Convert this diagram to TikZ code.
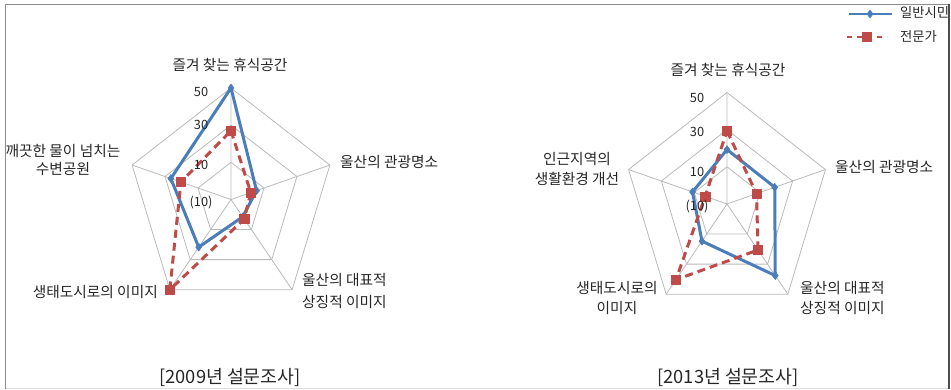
\documentclass[tikz,border=0pt]{standalone}
\usepackage{fontspec}
\setmainfont{Noto Sans CJK KR}
\usetikzlibrary{calc,plotmarks}
\definecolor{citizenblue}{HTML}{4A7EBB}
\definecolor{expertred}{HTML}{BE4B48}
\def\pentagon[#1](#2){\draw[#1] (90:#2) -- (162:#2) -- (234:#2) -- (306:#2) -- (18:#2) -- cycle;}
\tikzset{
	radargrid/.style={line width=0.8pt, color=black!27},
	citizen/.style={line width=3pt, color=citizenblue, line join=round},
	expert/.style={line width=3pt, color=expertred, dash pattern=on 8pt off 5pt, line join=round},
	citizenmarks/.style={mark=diamond*, mark size=4pt, mark options={solid, line width=0.5pt, fill=citizenblue, draw=citizenblue}},
	expertmarks/.style={mark=square*, mark size=4.6pt, mark options={solid, line width=0.5pt, fill=expertred, draw=expertred}},
	axislabel/.style={text=black!85, font=\fontsize{14.7}{20}\selectfont, inner sep=0pt},
	ringlabel/.style={text=black!85, font=\fontsize{12.8}{14}\selectfont, inner sep=0pt},
	charttitle/.style={text=black!85, font=\fontsize{18.3}{20}\selectfont, inner sep=0pt},
	legendtext/.style={text=black!85, font=\fontsize{13.3}{14}\selectfont, inner sep=0pt, anchor=west}
}

\begin{document}
\begin{tikzpicture}[x=1pt, y=-1pt, declare function={rv(\v)=(\v+10)/60;}]
			%%%%% START %%%%%
			\useasboundingbox (0, 0) rectangle (951, 390);
			
			%%%%% 2009 %%%%%
			\begin{scope}[shift={(231, 199.5)}, x=104pt, y=111.5pt]
				\pentagon[radargrid](0.3333)
				\pentagon[radargrid](0.6667)
				\pentagon[radargrid](1)
				\draw[radargrid] (0, 0) -- (90:1) (0, 0) -- (18:1) (0, 0) -- (306:1) (0, 0) -- (234:1) (0, 0) -- (162:1);
				
				\draw[citizen] plot[citizenmarks] coordinates {(90:{rv(50)}) (18:{rv(5.5)}) (306:{rv(1.5)}) (234:{rv(21.7)}) (162:{rv(26.5)})} -- cycle;
				\draw[expert] plot[expertmarks] coordinates {(90:{rv(27)}) (18:{rv(2)}) (306:{rv(3)}) (234:{rv(50)}) (162:{rv(20.4)})} -- cycle;
			\end{scope}
			
			\node[ringlabel] (ringA50) at (201, 92) {50};
			\node[ringlabel] (ringA30) at (201, 125) {30};
			\node[ringlabel] (ringA10) at (201, 165) {10};
			\node[ringlabel] (ringAm10) at (201, 203) {(10)};
			
			\node[axislabel] (restA) at (230, 65) {즐겨 찾는 휴식공간};
			\node[axislabel, anchor=west] (sightA) at (340, 162) {울산의 관광명소};
			\node[axislabel, anchor=west, align=left, font=\fontsize{14.7}{21.7}\selectfont] (symbolA) at (302, 291) {울산의 대표적\\상징적 이미지};
			\node[axislabel, anchor=east] (ecoA) at (158, 292) {생태도시로의 이미지};
			\node[axislabel, align=center, font=\fontsize{14.7}{18.6}\selectfont] (waterA) at (63, 160) {깨끗한 물이 넘치는\\수변공원};
			\node[charttitle] (titleA) at (230, 377) {[2009년 설문조사]};
			
			%%%%% 2013 %%%%%
			\begin{scope}[shift={(727, 204)}, x=103.5pt, y=111.5pt]
				\pentagon[radargrid](0.3333)
				\pentagon[radargrid](0.6667)
				\pentagon[radargrid](1)
				\draw[radargrid] (0, 0) -- (90:1) (0, 0) -- (18:1) (0, 0) -- (306:1) (0, 0) -- (234:1) (0, 0) -- (162:1);
				
				\draw[citizen] plot[citizenmarks] coordinates {(90:{rv(19.3)}) (18:{rv(19.1)}) (306:{rv(37.6)}) (234:{rv(14.7)}) (162:{rv(11)})} -- cycle;
				\draw[expert] plot[expertmarks] coordinates {(90:{rv(29.3)}) (18:{rv(8)}) (306:{rv(20.6)}) (234:{rv(40.3)}) (162:{rv(3.3)})} -- cycle;
			\end{scope}
			
			\node[ringlabel] (ringB50) at (697, 98) {50};
			\node[ringlabel] (ringB30) at (697, 132) {30};
			\node[ringlabel] (ringB10) at (697, 172) {10};
			\node[ringlabel] (ringBm10) at (697, 207) {(10)};
			
			\node[axislabel] (restB) at (728, 70) {즐겨 찾는 휴식공간};
			\node[axislabel, anchor=west] (sightB) at (835, 167) {울산의 관광명소};
			\node[axislabel, anchor=west, align=left] (symbolB) at (800, 298) {울산의 대표적\\상징적 이미지};
			\node[axislabel, align=center] (ecoB) at (617, 298) {생태도시로의\\이미지};
			\node[axislabel, align=center] (livingB) at (577, 169) {인근지역의\\생활환경 개선};
			\node[charttitle] (titleB) at (728, 377) {[2013년 설문조사]};
			
			%%%%% LEGEND %%%%%
			\coordinate (citizenA) at (849, 14);
			\coordinate (citizenB) at (892, 14);
			\draw[citizen, line width=2.5pt] (citizenA) -- (citizenB);
			\path plot[citizenmarks] coordinates {(870, 14)};
			\node[legendtext] (citizenText) at (900, 13) {일반시민};
			
			\coordinate (expertA) at (847, 37);
			\coordinate (expertB) at (887, 37);
			\draw[expert, line width=2.5pt, dash pattern=on 5pt off 5pt] (expertA) -- (expertB);
			\path plot[expertmarks] coordinates {(867, 37)};
			\node[legendtext] (expertText) at (900, 37) {전문가};
			
			%%%%% FRAME %%%%%
			\draw[line width=1.3pt, color=black!45] (948.5, 4.5) -- (5.5, 4.5) -- (5.5, 388.5);
			\draw[line width=0.8pt, color=black!12] (5.5, 388.5) -- (948.5, 388.5);
			\draw[line width=1.5pt, color=black!70] (949, 4.5) -- (949, 388.5);
			%%%%% END %%%%%
\end{tikzpicture}
\end{document}
